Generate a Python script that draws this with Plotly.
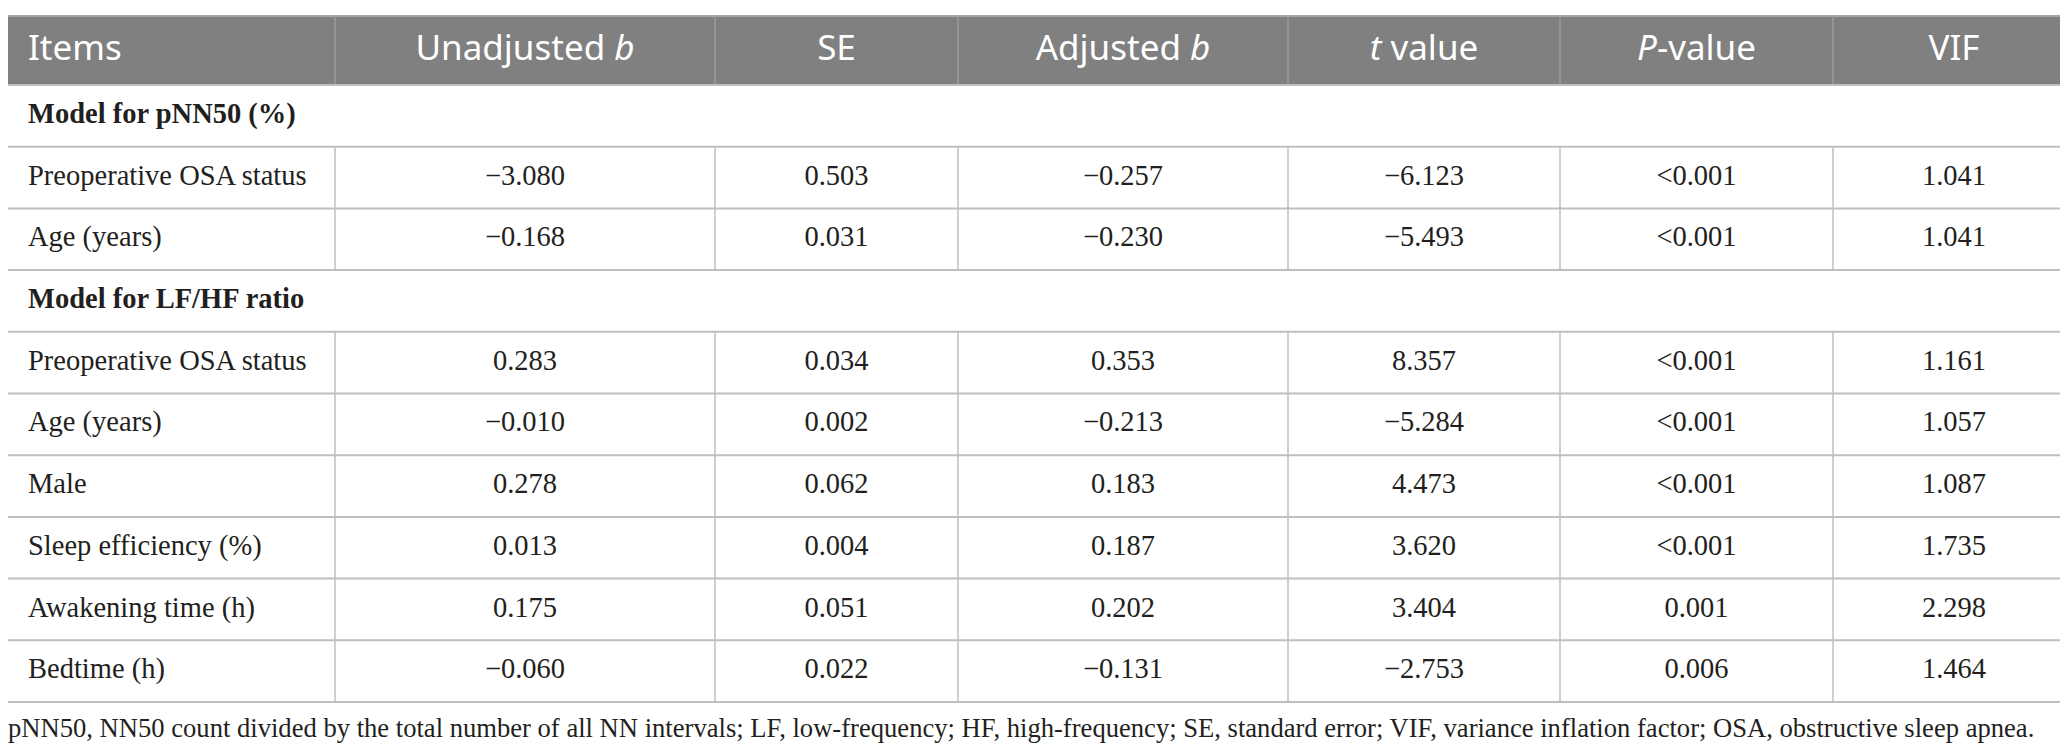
import plotly.graph_objects as go

# Table contents
headers = ["Items", "Unadjusted <i>b</i>", "SE", "Adjusted <i>b</i>", "<i>t</i> value", "<i>P</i>-value", "VIF"]

sections = ["Model for pNN50 (%)", "Model for LF/HF ratio"]

pnn50_items = ["Preoperative OSA status", "Age (years)"]
pnn50_unadj_b = [-3.080, -0.168]
pnn50_se = [0.503, 0.031]
pnn50_adj_b = [-0.257, -0.230]
pnn50_t = [-6.123, -5.493]
pnn50_p = ["<0.001", "<0.001"]
pnn50_vif = [1.041, 1.041]

lfhf_items = ["Preoperative OSA status", "Age (years)", "Male", "Sleep efficiency (%)",
              "Awakening time (h)", "Bedtime (h)"]
lfhf_unadj_b = [0.283, -0.010, 0.278, 0.013, 0.175, -0.060]
lfhf_se = [0.034, 0.002, 0.062, 0.004, 0.051, 0.022]
lfhf_adj_b = [0.353, -0.213, 0.183, 0.187, 0.202, -0.131]
lfhf_t = [8.357, -5.284, 4.473, 3.620, 3.404, -2.753]
lfhf_p = ["<0.001", "<0.001", "<0.001", "<0.001", "0.001", "0.006"]
lfhf_vif = [1.161, 1.057, 1.087, 1.735, 2.298, 1.464]

footnote = ("pNN50, NN50 count divided by the total number of all NN intervals; LF, low-frequency; "
            "HF, high-frequency; SE, standard error; VIF, variance inflation factor; OSA, obstructive sleep apnea.")

# layout constants (page pixels)
W, H = 2068, 750
col_edges = [0, 327, 707, 950, 1280, 1552, 1825, 2067]
head_top, head_bot, row_h = 8, 77, 61.7
pad_left = 20
head_fill = "#808080"
grid = "#bfbfbf"
serif = "Liberation Serif"
sans = "Noto Sans"
body_size = 28.5


def fmt(v):
    if isinstance(v, str):
        return v
    s = f"{abs(v):.3f}"
    return ("\u2212" + s) if v < 0 else s


# assemble rows: ("section", label) or ("data", [cells])
rows = [("section", sections[0])]
for i in range(len(pnn50_items)):
    rows.append(("data", [pnn50_items[i], pnn50_unadj_b[i], pnn50_se[i], pnn50_adj_b[i],
                          pnn50_t[i], pnn50_p[i], pnn50_vif[i]]))
rows.append(("section", sections[1]))
for i in range(len(lfhf_items)):
    rows.append(("data", [lfhf_items[i], lfhf_unadj_b[i], lfhf_se[i], lfhf_adj_b[i],
                          lfhf_t[i], lfhf_p[i], lfhf_vif[i]]))

row_edges = [head_bot + i * row_h for i in range(len(rows) + 1)]
row_mid = [(row_edges[i] + row_edges[i + 1]) / 2 for i in range(len(rows))]
col_mid = [(col_edges[j] + col_edges[j + 1]) / 2 for j in range(len(col_edges) - 1)]

fig = go.Figure()
shapes = []

# header band
shapes.append(dict(type="rect", xref="x", yref="y", x0=col_edges[0], x1=col_edges[-1],
                   y0=head_top, y1=head_bot, fillcolor=head_fill, line=dict(width=0), layer="below"))
shapes.append(dict(type="line", xref="x", yref="y", x0=col_edges[0], x1=col_edges[-1],
                   y0=head_top, y1=head_top, line=dict(color="#a6a6a6", width=2)))
for x in col_edges[1:-1]:
    shapes.append(dict(type="line", xref="x", yref="y", x0=x, x1=x, y0=head_top, y1=head_bot,
                       line=dict(color="#9c9c9c", width=1.5)))

# horizontal rules
for y in row_edges:
    shapes.append(dict(type="line", xref="x", yref="y", x0=col_edges[0], x1=col_edges[-1],
                       y0=y, y1=y, line=dict(color=grid, width=2)))

# vertical rules: right edge everywhere, inner only on data rows
shapes.append(dict(type="line", xref="x", yref="y", x0=col_edges[-1], x1=col_edges[-1],
                   y0=head_bot, y1=row_edges[-1], line=dict(color=grid, width=1.5)))
for i, (kind, _) in enumerate(rows):
    if kind != "data":
        continue
    for x in col_edges[1:-1]:
        shapes.append(dict(type="line", xref="x", yref="y", x0=x, x1=x,
                           y0=row_edges[i], y1=row_edges[i + 1], line=dict(color=grid, width=1.5)))

# header text
fig.add_trace(go.Scatter(x=[col_edges[0] + pad_left], y=[(head_top + head_bot) / 2 + 1], text=[headers[0]],
                         mode="text", textposition="middle right",
                         textfont=dict(family=sans, size=35, color="white"), hoverinfo="skip"))
fig.add_trace(go.Scatter(x=col_mid[1:], y=[(head_top + head_bot) / 2 + 1] * (len(headers) - 1),
                         text=headers[1:], mode="text", textposition="middle center",
                         textfont=dict(family=sans, size=35, color="white"), hoverinfo="skip"))

# section labels
sec_y = [row_mid[i] for i, r in enumerate(rows) if r[0] == "section"]
sec_t = ["<b>" + r[1] + "</b>" for r in rows if r[0] == "section"]
fig.add_trace(go.Scatter(x=[col_edges[0] + pad_left] * len(sec_y), y=sec_y, text=sec_t,
                         mode="text", textposition="middle right",
                         textfont=dict(family=serif, size=body_size, color="#231f20"), hoverinfo="skip"))

# data cells
data_idx = [i for i, r in enumerate(rows) if r[0] == "data"]
fig.add_trace(go.Scatter(x=[col_edges[0] + pad_left] * len(data_idx), y=[row_mid[i] for i in data_idx],
                         text=[rows[i][1][0] for i in data_idx], mode="text", textposition="middle right",
                         textfont=dict(family=serif, size=body_size, color="#231f20"), hoverinfo="skip"))
for j in range(1, len(headers)):
    fig.add_trace(go.Scatter(x=[col_mid[j]] * len(data_idx), y=[row_mid[i] for i in data_idx],
                             text=[fmt(rows[i][1][j]) for i in data_idx], mode="text",
                             textposition="middle center",
                             textfont=dict(family=serif, size=body_size, color="#231f20"), hoverinfo="skip"))

# footnote
fig.add_trace(go.Scatter(x=[0], y=[722], text=[footnote], mode="text", textposition="middle right",
                         cliponaxis=False,
                         textfont=dict(family=serif, size=26.6, color="#231f20"), hoverinfo="skip"))

fig.update_layout(
    width=W, height=H,
    margin=dict(l=0, r=0, t=0, b=0),
    paper_bgcolor="white", plot_bgcolor="white",
    showlegend=False,
    shapes=shapes,
    xaxis=dict(range=[0, W], visible=False, fixedrange=True),
    yaxis=dict(range=[H, 0], visible=False, fixedrange=True),
)

fig.write_html("out.html")
